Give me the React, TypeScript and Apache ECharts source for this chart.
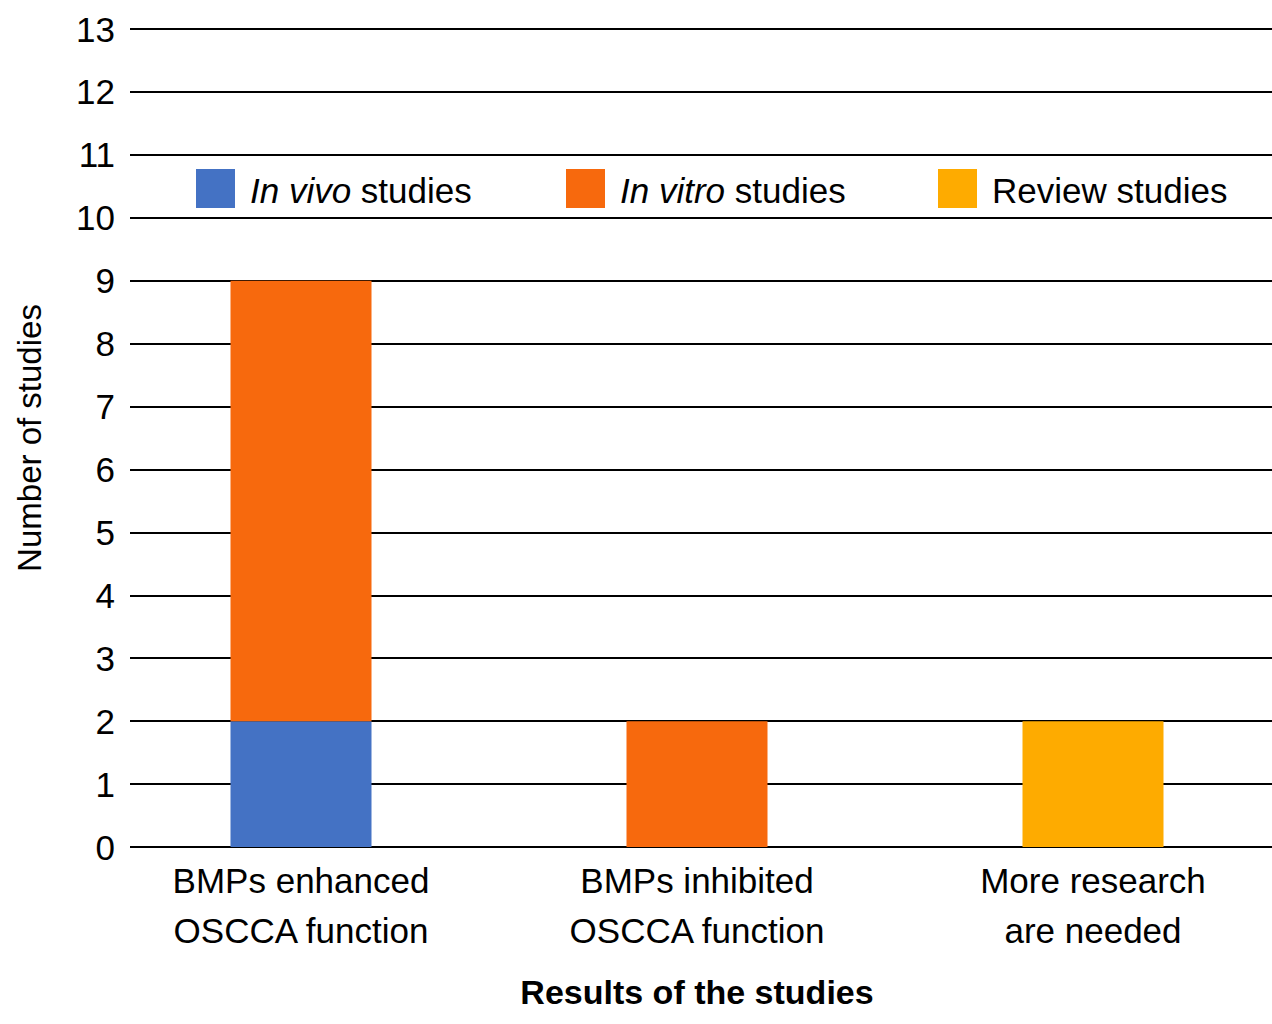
import React, { useEffect, useRef } from "react";
import * as echarts from "echarts";

const categories = ["BMPs enhanced\nOSCCA function", "BMPs inhibited\nOSCCA function", "More research\nare needed"];
const seriesNames = ["In vivo studies", "In vitro studies", "Review studies"];
const inVivo = [2, 0, 0];
const inVitro = [7, 2, 0];
const review = [0, 0, 2];
const colors = ["#4472C4", "#F7690D", "#FEAB00"];
const yMin = 0;
const yMax = 13;
const yInterval = 1;

const FONT = "'Liberation Sans', Arial, sans-serif";

export default function App() {
  const ref = useRef<HTMLDivElement>(null);
  useEffect(() => {
    document.body.style.margin = "0";
    const chart = echarts.init(ref.current!, null, { renderer: "svg" });
    const italicParts: Record<string, [string, string]> = {
      "In vivo studies": ["In vivo", " studies"],
      "In vitro studies": ["In vitro", " studies"],
    };
    const legendFormatter = (name: string) => {
      const p = italicParts[name];
      if (p) return `{i|${p[0]}}{n|${p[1]}}`;
      return `{n|${name}}`;
    };
    const legendRich = {
      i: { fontStyle: "italic", fontSize: 35, fontFamily: FONT, color: "#000" },
      n: { fontSize: 35, fontFamily: FONT, color: "#000" },
    };
    const legendLefts = [196, 566, 938];
    const legends = seriesNames.map((n, i) => ({
      data: [n],
      left: legendLefts[i],
      top: 169,
      itemWidth: 39,
      itemHeight: 39,
      icon: "rect",
      padding: 0,
      formatter: legendFormatter,
      selectedMode: false,
      textStyle: { rich: legendRich, padding: [4, 0, 0, 10] },
    }));
    const data = [inVivo, inVitro, review];
    chart.setOption({
      animation: false,
      textStyle: { fontFamily: FONT },
      legend: legends,
      grid: [
        { left: 130, right: 0, top: 29, bottom: 177, outerBoundsMode: "none", containLabel: false },
        { left: 103, width: 1188, top: 29, bottom: 177, outerBoundsMode: "none", containLabel: false },
      ],
      xAxis: [
        { gridIndex: 0, type: "value", min: 0, max: 1, show: false },
        {
          gridIndex: 1,
          type: "category",
          data: categories,
          axisLine: { show: false },
          axisTick: { show: false },
          axisLabel: { fontSize: 35, lineHeight: 50, color: "#000", margin: 8, fontFamily: FONT },
          name: "Results of the studies",
          nameLocation: "middle",
          nameGap: 128,
          nameTextStyle: { fontSize: 34, fontWeight: "bold", color: "#000", fontFamily: FONT },
        },
      ],
      yAxis: [
        {
          gridIndex: 0,
          type: "value",
          min: yMin,
          max: yMax,
          interval: yInterval,
          axisLine: { show: false },
          axisTick: { show: false },
          axisLabel: { fontSize: 35, color: "#000", margin: 15, fontFamily: FONT },
          splitLine: { show: true, lineStyle: { color: "#000", width: 2 } },
          name: "Number of studies",
          nameLocation: "middle",
          nameGap: 84,
          nameTextStyle: { fontSize: 33, color: "#000", fontFamily: FONT },
        },
        {
          gridIndex: 1,
          type: "value",
          min: yMin,
          max: yMax,
          interval: yInterval,
          show: false,
          splitLine: { show: false },
        },
      ],
      series: seriesNames.map((n, i) => ({
        name: n,
        type: "bar",
        stack: "total",
        xAxisIndex: 1,
        yAxisIndex: 1,
        barWidth: 141,
        data: data[i],
        itemStyle: { color: colors[i] },
        z: 3,
      })),
    });
    return () => chart.dispose();
  }, []);
  return <div ref={ref} style={{ width: 1272, height: 1024 }} />;
}
